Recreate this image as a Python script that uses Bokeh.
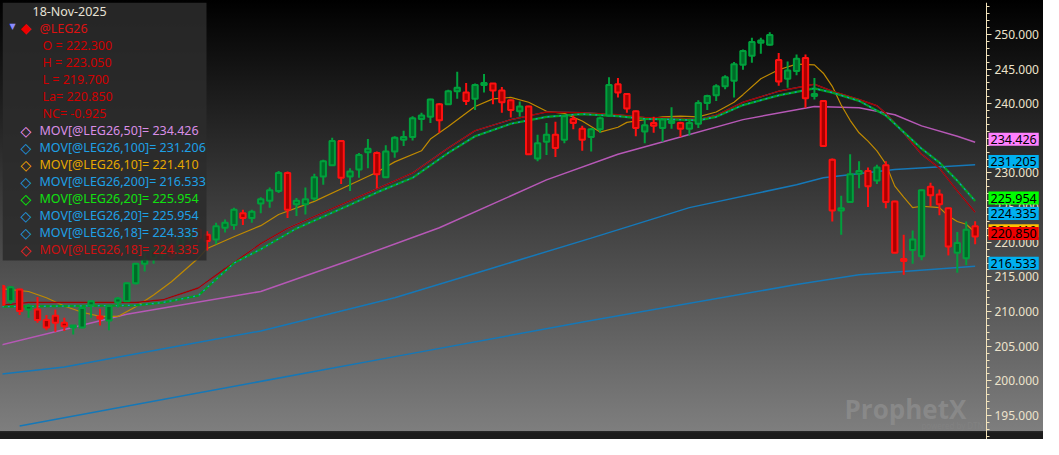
from bokeh.plotting import figure
from bokeh.models import (Range1d, SingleIntervalTicker, NumeralTickFormatter, LinearAxis,
                          BoxAnnotation, Label, ColumnDataSource)
from bokeh.embed import file_html
from bokeh.resources import INLINE

# ---------------- data ----------------
opens = [213.7, 211.5, 213.2, 210.3, 210.3, 208.8, 209.4, 208.4, 207.7, 207.7,
         210.9, 209.3, 208.7, 211.3, 211.5, 214.1, 216.9, 217.7, 218.2, 219.5,
         218.5, 220.6, 221.8, 221.1, 220.4, 222.1, 222.5, 224.2, 223.5, 225.6,
         226.0, 227.4, 230.0, 225.5, 225.5, 226.3, 229.5, 231.1, 234.6, 229.5,
         230.5, 233.0, 232.9, 229.4, 233.1, 234.8, 235.2, 237.8, 238.1, 239.9,
         239.9, 241.8, 241.6, 240.7, 242.7, 242.9, 241.9, 240.5, 238.9, 239.6,
         232.1, 234.5, 235.5, 234.8, 237.8, 236.4, 235.2, 236.3, 238.3, 242.8,
         241.4, 238.9, 236.0, 237.2, 236.5, 237.2, 237.2, 236.4, 237.1, 240.1,
         241.2, 242.5, 243.3, 245.6, 246.9, 248.8, 248.5, 246.3, 243.6, 244.7,
         246.6, 241.1, 240.4, 231.9, 224.6, 225.8, 229.9, 230.3, 228.9, 231.1,
         225.9, 217.6, 218.9, 218.0, 228.0, 226.9, 224.9, 218.5, 217.7, 222.3]
highs = [213.9, 213.7, 213.3, 211.1, 212.1, 209.5, 210.3, 209.1, 208.0, 210.6,
         211.6, 210.4, 210.9, 212.1, 214.2, 217.0, 218.5, 219.5, 220.0, 219.9,
         221.0, 222.0, 222.1, 221.6, 222.8, 223.3, 225.0, 224.7, 224.7, 226.5,
         227.9, 230.3, 230.2, 226.4, 227.9, 229.9, 231.9, 235.1, 234.7, 230.7,
         232.9, 234.9, 233.1, 234.0, 235.3, 236.1, 238.2, 238.7, 240.7, 240.1,
         242.0, 244.6, 243.0, 242.9, 244.3, 243.0, 242.4, 240.6, 240.3, 239.7,
         235.5, 237.2, 237.4, 238.4, 238.3, 236.8, 236.5, 238.1, 243.8, 243.7,
         241.5, 239.0, 237.7, 238.1, 237.8, 239.5, 237.4, 237.5, 240.5, 241.3,
         242.8, 244.1, 246.0, 247.8, 249.5, 249.5, 250.3, 247.3, 246.1, 247.1,
         247.1, 243.7, 240.5, 232.1, 226.7, 232.7, 231.7, 230.8, 231.2, 231.7,
         226.0, 221.1, 221.7, 227.6, 228.6, 227.6, 225.0, 221.5, 223.0, 223.05]
lows = [210.8, 211.1, 209.5, 209.1, 208.4, 207.3, 207.1, 207.2, 206.7, 207.6,
        209.1, 208.0, 207.3, 210.6, 211.4, 213.9, 215.8, 216.9, 217.5, 217.6,
        218.2, 220.2, 219.9, 218.8, 219.7, 221.4, 221.8, 222.5, 222.8, 224.2,
        225.0, 227.1, 223.5, 223.8, 224.0, 226.0, 228.3, 231.0, 228.4, 227.4,
        229.3, 230.7, 227.8, 229.3, 232.2, 233.9, 234.7, 236.1, 237.2, 235.8,
        239.8, 240.7, 239.8, 239.1, 241.6, 239.9, 238.7, 238.0, 238.1, 232.6,
        231.7, 232.6, 232.3, 234.3, 236.3, 233.2, 233.1, 235.8, 238.1, 240.9,
        238.7, 235.3, 234.3, 235.8, 234.5, 236.4, 235.2, 235.4, 236.5, 239.1,
        240.4, 242.1, 240.9, 244.9, 245.9, 247.2, 248.4, 242.6, 242.3, 244.1,
        239.4, 240.6, 233.8, 223.0, 221.1, 225.7, 227.8, 225.1, 228.4, 224.9,
        218.4, 215.3, 216.9, 217.4, 225.2, 223.9, 218.1, 215.6, 216.7, 219.7]
closes = [211.0, 213.5, 210.1, 210.8, 208.8, 207.7, 208.4, 207.9, 208.0, 210.5,
          211.5, 209.0, 210.8, 211.9, 214.1, 216.9, 217.5, 218.9, 219.2, 218.0,
          220.6, 221.6, 220.6, 220.2, 222.3, 222.8, 224.7, 223.5, 224.4, 226.2,
          227.5, 230.0, 224.7, 226.0, 226.2, 229.4, 231.7, 234.6, 229.3, 230.2,
          232.6, 233.5, 229.8, 233.1, 235.1, 235.2, 237.9, 238.3, 240.6, 237.6,
          241.8, 242.3, 240.4, 242.7, 243.0, 241.9, 240.2, 239.1, 239.6, 232.7,
          234.3, 235.5, 233.6, 238.2, 237.2, 234.8, 236.3, 237.9, 242.7, 241.6,
          239.3, 236.5, 236.9, 236.8, 237.7, 237.5, 236.4, 237.2, 240.1, 241.1,
          242.5, 243.8, 245.7, 247.6, 248.9, 249.1, 249.9, 243.2, 244.8, 246.5,
          240.8, 241.4, 233.9, 224.6, 224.9, 229.8, 230.3, 228.1, 230.8, 225.8,
          218.5, 217.3, 220.4, 227.5, 226.8, 225.5, 219.4, 219.9, 221.8, 220.85]

# moving averages at the bar index given
ma10_x = [0, 3, 5, 7, 9, 11, 13, 15, 17, 19, 22, 23, 26, 29, 31, 35, 39, 42, 44, 47,
          48, 50, 53, 55, 57, 59, 61, 63, 65, 67, 69, 70, 72, 74, 76, 78, 80, 82, 83, 85,
          87, 89, 91, 92, 93, 94, 95, 96, 97, 98, 99, 100, 101, 102, 103, 104, 105, 106,
          107, 108, 109]
ma10 = [213.3, 212.9, 212.0, 210.8, 209.9, 209.3, 209.3, 210.7, 212.4, 214.3,
        217.7, 219.1, 220.8, 222.4, 224.0, 225.9, 228.3, 230.1, 231.6, 233.2,
        234.9, 236.7, 239.6, 240.7, 240.9, 240.2, 238.9, 238.6, 237.5, 235.9,
        236.6, 237.3, 237.7, 238.1, 238.2, 238.1, 238.8, 240.2, 241.3, 243.6,
        244.9, 245.7, 245.6, 244.4, 242.5, 239.8, 237.6, 235.8, 234.6, 233.2,
        231.3, 228.1, 226.5, 225.0, 225.2, 225.1, 225.0, 223.8, 223.0, 222.6, 221.41]
ma18_x = [0, 3, 15, 18, 22, 25, 29, 32, 39, 42, 46, 50, 53, 57, 61, 65, 69, 72, 76, 78,
          80, 83, 87, 91, 93, 96, 98, 99, 101, 103, 105, 107, 109]
ma18 = [210.9, 211.3, 211.3, 211.7, 213.4, 216.2, 219.8, 222.0, 226.0, 227.7,
        230.0, 233.6, 236.1, 237.7, 238.8, 238.7, 238.4, 238.0, 237.9, 237.7,
        238.3, 240.2, 241.8, 242.8, 241.8, 240.6, 239.7, 238.6, 235.8, 232.7,
        230.7, 227.4, 224.335]
ma20_x = [0, 15, 18, 22, 26, 29, 33, 39, 42, 46, 50, 53, 57, 61, 65, 69, 72, 76, 78, 80,
          83, 87, 91, 93, 96, 99, 102, 103, 105, 107, 109]
ma20 = [210.7, 210.9, 211.3, 212.3, 217.0, 219.0, 222.0, 225.4, 227.2, 229.3,
        232.9, 235.3, 237.1, 238.1, 238.5, 238.2, 237.8, 237.7, 237.6, 238.1,
        239.8, 241.2, 242.2, 241.6, 240.4, 238.3, 234.7, 233.5, 231.5, 228.9, 225.954]
ma50_x = [0, 14, 29, 39, 49, 61, 69, 76, 83, 91, 96, 100, 103, 107, 109]
ma50 = [205.2, 209.6, 212.9, 217.4, 222.1, 229.0, 232.7, 235.2, 237.7, 239.6,
        239.4, 238.4, 236.8, 235.3, 234.426]
ma100_x = [0, 7, 29, 44, 55, 66, 77, 89, 92, 100, 109]
ma100 = [201.0, 202.0, 207.2, 212.0, 216.3, 220.6, 225.0, 228.3, 229.3, 230.5, 231.205]
ma200_x = [2, 44, 66, 89, 96, 109]
ma200 = [193.5, 203.5, 208.7, 213.9, 215.3, 216.533]

# legend texts
legend_date = "18-Nov-2025"
symbol = "@LEG26"
ohlc_labels = ["O = 222.300", "H = 223.050", "L = 219.700", "La= 220.850", "NC= -0.925"]
mov_labels = ["MOV[@LEG26,50]= 234.426", "MOV[@LEG26,100]= 231.206",
              "MOV[@LEG26,10]= 221.410", "MOV[@LEG26,200]= 216.533",
              "MOV[@LEG26,20]= 225.954", "MOV[@LEG26,20]= 225.954",
              "MOV[@LEG26,18]= 224.335", "MOV[@LEG26,18]= 224.335"]
mov_text_colors = ["#d98ee6", "#1ea0e6", "#e6a800", "#1ea0e6",
                   "#10e010", "#1ea0e6", "#1ea0e6", "#d01010"]
mov_marker_colors = ["#ff99ff", "#1ea0e6", "#ffaa00", "#1ea0e6",
                     "#00ff00", "#1ea0e6", "#1ea0e6", "#ff2020"]

# right-axis value tags
tag_texts = ["234.426", "231.205", "221.410", "220.850", "216.533", "224.335", "225.954"]
tag_y = [234.85, 231.64, 221.68, 221.28, 216.96, 224.17, 226.38]
tag_colors = ["#ff80ff", "#00b0f0", "#ffc000", "#ee0000", "#00b0f0", "#00b0f0", "#00ff00"]

# ---------------- layout ----------------
W, H = 1043, 439
BL, BT, BB = 2, 2, 0
FW = W - BL
FH = H - BT - BB
PXU = 8.93                     # pixels per bar
PYU = 6.93                     # pixels per price unit
X0 = 0.08
X1 = X0 + FW / PXU
AX_PX = 986                    # pixel column of the price axis
X_AX = X0 + (AX_PX - BL) / PXU
Y1 = 254.6
Y0 = Y1 - FH / PYU


def dx(sx):
    return X0 + (sx - BL) / PXU


def dy(sy):
    return Y1 - (sy - BT) / PYU


p = figure(width=W, height=H, x_range=Range1d(X0, X1), y_range=Range1d(Y0, Y1),
           output_backend="svg", toolbar_location=None,
           y_axis_location=None, x_axis_location=None,
           min_border_left=BL, min_border_right=0,
           min_border_top=BT, min_border_bottom=BB)
p.background_fill_alpha = 0
p.border_fill_alpha = 0
p.outline_line_color = None
p.grid.visible = False
p.styles = {"background": "linear-gradient(180deg, #000000 0px, #7e7e7e 431px, "
                          "#2a2a2a 431px, #1c1c1c 433px, #1c1c1c 439px)"}

ax = LinearAxis(fixed_location=X_AX)
ax.ticker = SingleIntervalTicker(interval=5, num_minor_ticks=5)
ax.formatter = NumeralTickFormatter(format="0.000")
ax.axis_line_color = "#f2e3bb"
ax.major_tick_line_color = "#f2e3bb"
ax.minor_tick_line_color = "#f2e3bb"
ax.major_tick_in = 0
ax.major_tick_out = 5
ax.minor_tick_in = 0
ax.minor_tick_out = 3
ax.major_label_standoff = 3
ax.major_label_text_color = "#ece3cc"
ax.major_label_text_font = "Noto Sans"
ax.major_label_text_font_size = "12px"
p.add_layout(ax, "right")

# ---------------- moving averages ----------------
p.line(ma200_x, ma200, line_color="#1578b8", line_width=1.5)
p.line(ma100_x, ma100, line_color="#1578b8", line_width=1.5)
p.line(ma50_x, ma50, line_color="#b658b6", line_width=1.5)
p.line(ma10_x, ma10, line_color="#c08a00", line_width=1.2)
p.line(ma18_x, ma18, line_color="#1a8fd0", line_width=1.2)
p.line(ma18_x, ma18, line_color="#a80000", line_width=1.4)
p.line(ma20_x, ma20, line_color="#00a020", line_width=2.2)
p.line(ma20_x, ma20, line_color="#1a8fd0", line_width=1.3, line_dash="2 4")

# ---------------- candles ----------------
idx = list(range(len(opens)))
up = [c >= o for o, c in zip(opens, closes)]
src = ColumnDataSource(dict(
    x=idx, o=opens, h=highs, l=lows, c=closes,
    top=[max(o, c) for o, c in zip(opens, closes)],
    bottom=[min(o, c) for o, c in zip(opens, closes)],
    line=["#00a03c" if u else "#ff1010" for u in up],
    fill=["#006a28" if u else "#a80000" for u in up],
))
p.segment(x0="x", y0="l", x1="x", y1="h", line_color="line", line_width=2, source=src)
p.vbar(x="x", width=0.6, top="top", bottom="bottom", fill_color="fill",
       line_color="line", line_width=2, source=src)

# ---------------- legend panel ----------------
p.add_layout(BoxAnnotation(left=X0, right=dx(206), top=Y1, bottom=dy(260),
                           fill_color="#2b2b2b", fill_alpha=0.88, line_color=None,
                           level="overlay"))


def txt(rx, ry, text, color, size="12.5px", font="Noto Sans", style="normal",
        align="left", alpha=1.0):
    p.add_layout(Label(x=dx(rx - 1), y=dy(ry), text=text, text_color=color,
                       text_font=font, text_font_size=size, text_font_style=style,
                       text_baseline="middle", text_align=align, text_alpha=alpha,
                       level="overlay"))


txt(33, 11, legend_date, "#e6e2d6")
txt(10, 26, "▼", "#8a8aff", size="8px", font="DejaVu Sans")
txt(21, 27, "◆", "#ee0000", size="14px", font="DejaVu Sans")
txt(40, 28, symbol, "#dd1111")
for i, t in enumerate(ohlc_labels):
    txt(43, 45 + 17 * i, t, "#d00000")
for i, t in enumerate(mov_labels):
    yy = 130 + 17 * i
    txt(21, yy, "◇", mov_marker_colors[i], size="14px", font="DejaVu Sans", style="bold")
    txt(40, yy, t, mov_text_colors[i])

# ---------------- right-side value tags ----------------
for t, yv, col in zip(tag_texts, tag_y, tag_colors):
    p.add_layout(Label(x=X_AX + 2 / PXU, y=yv, text=t, text_color="black",
                       text_font="Noto Sans", text_font_size="12.5px",
                       text_baseline="middle", text_align="left",
                       background_fill_color=col, padding=2, level="overlay"))

# ---------------- watermark ----------------
txt(845, 408, "ProphetX", "#8c8c8c", size="26px", font="Open Sans", style="bold", alpha=0.85)
txt(984, 425, "powered by DTN", "#828282", size="8px", align="right", alpha=0.9)

open("out.html", "w").write(file_html(p, INLINE))
